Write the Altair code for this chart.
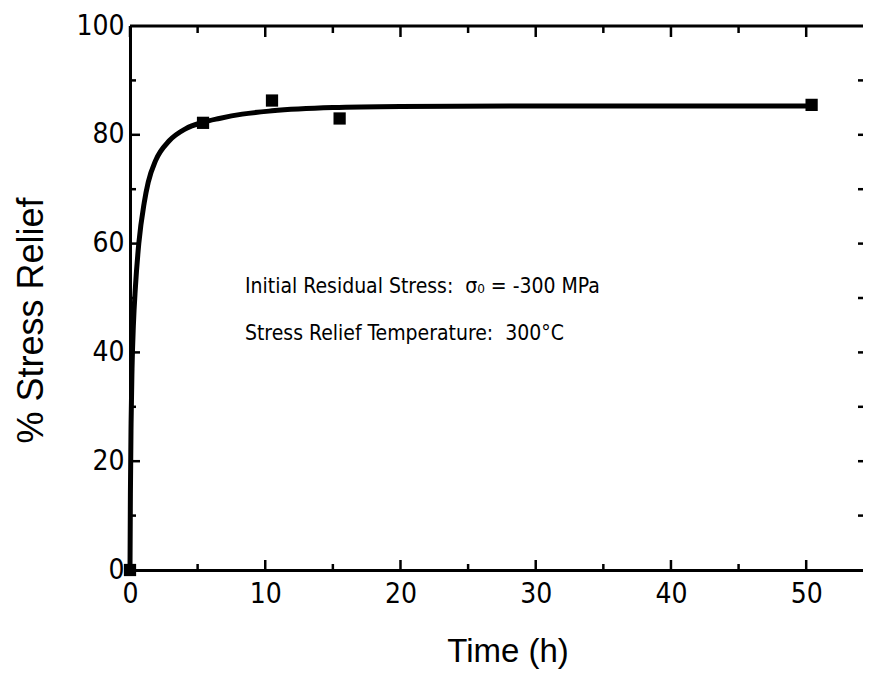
import altair as alt
import pandas as pd

# Fitted curve
curve_t = [0, 0.03, 0.08, 0.15, 0.25, 0.4, 0.65, 1.05, 1.35, 1.9, 2.9, 4.1, 5.4, 6.6, 8.3, 10.5, 15, 20, 30, 40, 50.4]
curve_y = [0, 14, 27, 37, 45, 52, 60, 67.5, 71.3, 75.3, 78.9, 81.1, 82.3, 83.0, 83.8, 84.4, 85, 85.2, 85.3, 85.3, 85.3]

# Measured points
pts_t = [0, 5.4, 10.5, 15.5, 50.4]
pts_y = [0, 82.2, 86.3, 83.0, 85.5]

x_major = [0, 10, 20, 30, 40, 50]
x_minor = [5, 15, 25, 35, 45]
y_major = [20, 40, 60, 80]
y_minor = [10, 30, 50, 70, 90]
y_right = [10, 20, 30, 40, 50, 60, 70, 80, 90]
y_labels = [0, 20, 40, 60, 80, 100]

notes_t = [8.5, 8.5]
notes_y = [52, 43.4]
notes_text = ["Initial Residual Stress:\u00a0\u00a0\u03c3\u2080 = -300 MPa",
              "Stress Relief Temperature:\u00a0\u00a0300\u00b0C"]

XMAX = 54.2
W = 733
H = 544

NARROW = "Liberation Sans Narrow, DejaVu Sans Condensed, Arial Narrow, sans-serif"
REG = "Liberation Sans, Arial, Helvetica, sans-serif"

xscale = alt.Scale(domain=[0, XMAX], nice=False, zero=False)
yscale = alt.Scale(domain=[0, 100], nice=False)

xaxis = alt.Axis(values=x_major, title="Time (h)", ticks=False, grid=False, labelFlush=False,
                 labelPadding=10, titlePadding=27, titleX=W / 2 + 11, format="d")
yaxis = alt.Axis(values=y_labels, title="% Stress Relief", ticks=False, grid=False, labelFlush=False,
                 labelPadding=6, titlePadding=25, titleY=H / 2 + 22, format="d")

def X(f):
    return alt.X(f, type="quantitative", scale=xscale, axis=xaxis)

def Y(f):
    return alt.Y(f, type="quantitative", scale=yscale, axis=yaxis)

curve_df = pd.DataFrame({"t": curve_t, "y": curve_y})
pts_df = pd.DataFrame({"t": pts_t, "y": pts_y})

line = alt.Chart(curve_df).mark_line(color="black", strokeWidth=5, interpolate="monotone").encode(
    x=X("t"), y=Y("y"))

points = alt.Chart(pts_df).mark_square(size=150, color="black", opacity=1, filled=True).encode(
    x=X("t"), y=Y("y"))

def xticks(vals, top, length):
    df = pd.DataFrame({"t": vals})
    if top:
        return alt.Chart(df).mark_rule(color="black", strokeWidth=2.5).encode(
            x=X("t"), y=alt.value(0), y2=alt.value(length))
    return alt.Chart(df).mark_rule(color="black", strokeWidth=2.5).encode(
        x=X("t"), y=alt.value(H), y2=alt.value(H - length))

def yticks(vals, right, length):
    df = pd.DataFrame({"v": vals})
    if right:
        return alt.Chart(df).mark_rule(color="black", strokeWidth=2.5).encode(
            y=Y("v"), x=alt.value(W), x2=alt.value(W - length))
    return alt.Chart(df).mark_rule(color="black", strokeWidth=2.5).encode(
        y=Y("v"), x=alt.value(0), x2=alt.value(length))

top_border = alt.Chart(pd.DataFrame({"a": [0], "b": [XMAX]})).mark_rule(
    color="black", strokeWidth=3).encode(x=X("a"), x2="b", y=alt.value(0))

notes_df = pd.DataFrame({"t": notes_t, "y": notes_y, "txt": notes_text})
notes = alt.Chart(notes_df).mark_text(align="left", baseline="middle", font=NARROW,
                                      fontSize=21, color="black").encode(
    x=X("t"), y=Y("y"), text="txt")

chart = alt.layer(
    top_border,
    xticks(x_major, False, 10), xticks(x_minor, False, 6),
    xticks(x_major, True, 11), xticks(x_minor, True, 7),
    yticks(y_major, False, 10), yticks(y_minor, False, 6),
    yticks(y_right, True, 5),
    line, points, notes,
).properties(
    width=W, height=H,
    autosize=alt.AutoSizeParams(type="none"),
    padding={"top": 18, "left": 122, "right": 0, "bottom": 105},
).configure_view(stroke=None).configure_axis(
    domainColor="black", domainWidth=3, labelColor="black", titleColor="black",
    labelFont=NARROW, labelFontSize=28, titleFont=REG, titleFontWeight="normal",
).configure_axisX(titleFontSize=33).configure_axisY(titleFontSize=36)

chart.save("out.html", embed_options={"renderer": "svg", "actions": False})
